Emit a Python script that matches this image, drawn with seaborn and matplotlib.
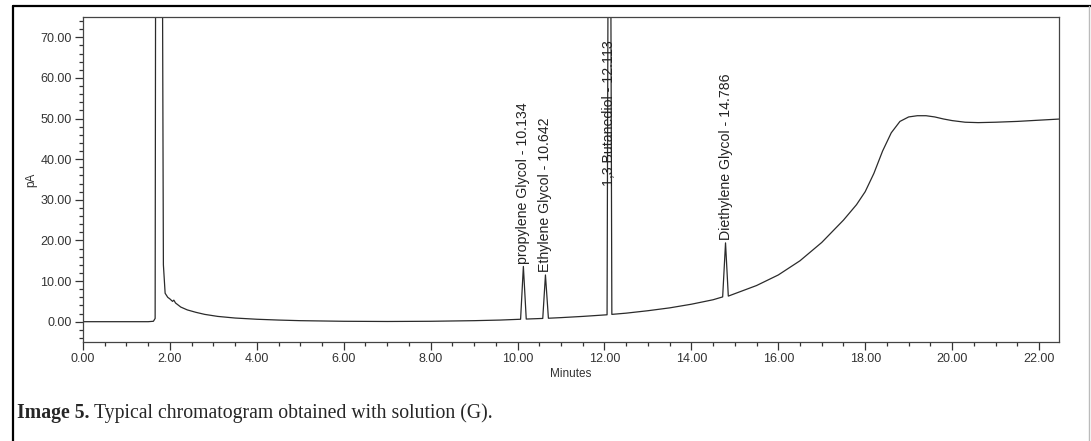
import numpy as np
import pandas as pd
import matplotlib
matplotlib.use('Agg')
import matplotlib.pyplot as plt
import seaborn as sns
from matplotlib.ticker import MultipleLocator, FormatStrFormatter
from matplotlib.lines import Line2D

# chromatogram trace (minutes, pA)
minutes = [0.0, 0.5, 1.0, 1.5, 1.62, 1.66, 1.67, 1.75, 1.83, 1.85, 1.89, 1.95,
           2.0, 2.06, 2.09, 2.13, 2.25, 2.4, 2.6, 2.8, 3.1, 3.5, 4.0, 4.5, 5.0,
           6.0, 7.0, 8.0, 9.0, 9.6, 10.07, 10.134, 10.20, 10.58, 10.642, 10.71,
           11.0, 11.5, 12.06, 12.113, 12.17, 12.5, 13.0, 13.5, 14.0, 14.5,
           14.72, 14.786, 14.85, 15.0, 15.5, 16.0, 16.5, 17.0, 17.5, 17.8,
           18.0, 18.2, 18.4, 18.6, 18.8, 19.0, 19.2, 19.4, 19.6, 19.8, 20.0,
           20.3, 20.6, 21.0, 21.5, 22.0, 22.5]
signal = [0.0, 0.0, 0.0, 0.0, 0.1, 0.8, 80.0, 400.0, 80.0, 14.0, 7.0, 6.0,
          5.6, 5.0, 5.3, 4.6, 3.6, 2.9, 2.3, 1.8, 1.3, 0.9, 0.6, 0.4, 0.25,
          0.1, 0.05, 0.1, 0.25, 0.4, 0.6, 13.6, 0.65, 0.8, 11.5, 0.85,
          1.0, 1.3, 1.7, 200.0, 1.8, 2.1, 2.7, 3.4, 4.3, 5.4,
          6.1, 19.4, 6.3, 6.9, 8.9, 11.5, 15.0, 19.5, 25.0, 28.8,
          32.0, 36.5, 42.0, 46.5, 49.3, 50.4, 50.7, 50.7, 50.4, 49.9, 49.5,
          49.1, 49.0, 49.1, 49.3, 49.6, 49.9]

# peak labels
peak_names = ['propylene Glycol - 10.134', 'Ethylene Glycol - 10.642',
              '1,3 Butanediol - 12.113', 'Diethylene Glycol - 14.786']
peak_times = [10.134, 10.642, 12.113, 14.786]
label_bottoms = [14.3, 12.2, 33.5, 20.2]

df = pd.DataFrame({'Minutes': minutes, 'pA': signal})

sns.set_style('white')
plt.rcParams['font.family'] = ['Liberation Sans', 'DejaVu Sans']

W, H = 1091, 441
fig = plt.figure(figsize=(W / 100, H / 100), dpi=100)
ax = fig.add_axes([83 / W, 1 - 342 / H, (1059 - 83) / W, (342 - 17) / H])

sns.lineplot(data=df, x='Minutes', y='pA', ax=ax, color='#2b2b2b',
             linewidth=0.9, estimator=None, sort=False)

ax.set_xlim(0, 22.46)
ax.set_ylim(-5, 75)
ax.xaxis.set_major_locator(MultipleLocator(2))
ax.xaxis.set_minor_locator(MultipleLocator(0.5))
ax.yaxis.set_major_locator(MultipleLocator(10))
ax.yaxis.set_minor_locator(MultipleLocator(2))
ax.xaxis.set_major_formatter(FormatStrFormatter('%.2f'))
ax.yaxis.set_major_formatter(FormatStrFormatter('%.2f'))
ax.tick_params(which='major', direction='out', length=6, width=0.9,
               color='#333333', labelsize=9, labelcolor='#333333', pad=2,
               bottom=True, left=True)
ax.tick_params(which='minor', direction='out', length=3, width=0.9,
               color='#333333', bottom=True, left=True)
for s in ax.spines.values():
    s.set_color('#444444')
    s.set_linewidth(0.9)

ax.set_xlabel('Minutes', fontsize=8.5, color='#333333', labelpad=2)
ax.set_ylabel('pA', fontsize=8.5, color='#333333', labelpad=2)

for name, t, yb in zip(peak_names, peak_times, label_bottoms):
    ax.text(t, yb, name, rotation=90, ha='center', va='bottom',
            fontsize=10.2, color='#222222')

# outer frame of the figure panel
fig.add_artist(Line2D([13 / W, 13 / W], [0, 1 - 6 / H], transform=fig.transFigure,
                      color='black', linewidth=1.6))
fig.add_artist(Line2D([13 / W, 1.0], [1 - 6 / H, 1 - 6 / H], transform=fig.transFigure,
                      color='black', linewidth=1.6))
fig.add_artist(Line2D([1089 / W, 1089 / W], [0, 1 - 6 / H], transform=fig.transFigure,
                      color='#bbbbbb', linewidth=1.0))

# caption
cap_y = 1 - 413 / H
t1 = fig.text(17 / W, cap_y, 'Image 5.', family='Liberation Serif',
              fontweight='bold', fontsize=14.2, va='center', ha='left')
fig.canvas.draw()
bb = t1.get_window_extent()
fig.text(bb.x1 / W + 4 / W, cap_y, 'Typical chromatogram obtained with solution (G).',
         family='Liberation Serif', fontsize=14.2, va='center', ha='left')

fig.savefig('out.png', dpi=100)
